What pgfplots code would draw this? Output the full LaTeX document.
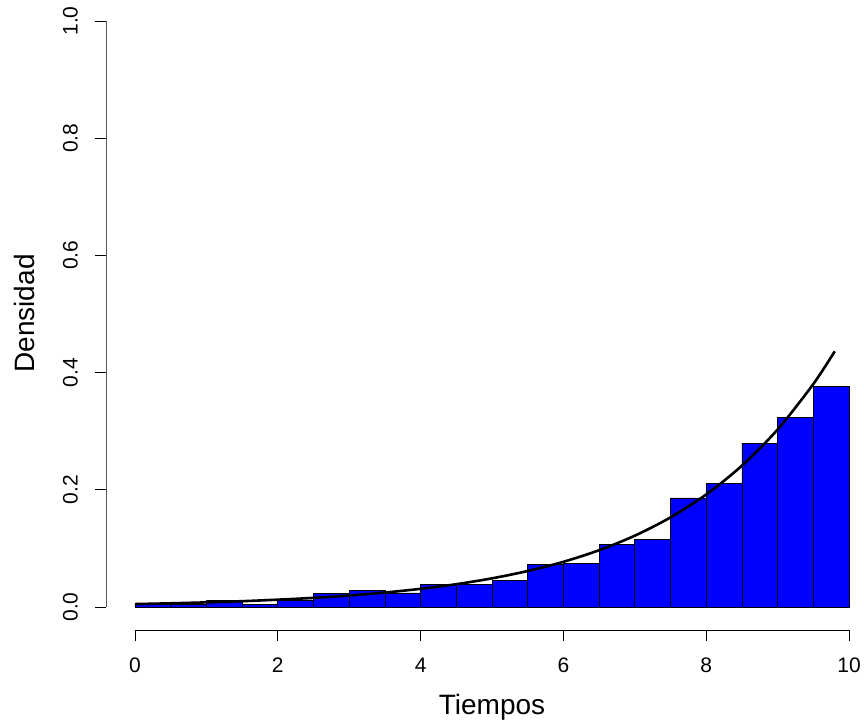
\documentclass[border=0pt]{standalone}
\usepackage{pgfplots}
\pgfplotsset{compat=1.18}
\usepackage{fontspec}
\setmainfont{Liberation Sans}

\definecolor{barblue}{RGB}{0,0,255}

% density histogram, bins of width 0.5 (last y repeated for ybar interval)
\pgfplotstableread{
x y
0.0 0.004
0.5 0.004
1.0 0.011
1.5 0.005
2.0 0.012
2.5 0.023
3.0 0.029
3.5 0.024
4.0 0.039
4.5 0.039
5.0 0.045
5.5 0.073
6.0 0.075
6.5 0.106
7.0 0.116
7.5 0.186
8.0 0.211
8.5 0.279
9.0 0.324
9.5 0.377
10.0 0.377
}\hist

\begin{document}
\begin{tikzpicture}[x=1bp,y=1bp]
\begin{axis}[
    anchor=south west,
    x=71.4bp, y=586bp,
    xmin=-0.4, xmax=10.4, ymin=-0.04, ymax=1.04,
    axis line style={draw=none},
    xtick={0,2,4,6,8,10},
    ytick={0,0.2,0.4,0.6,0.8,1},
    xtick pos=bottom, ytick pos=left,
    tick align=outside, major tick length=11bp,
    tick style={black, line width=0.9bp},
    /pgf/number format/assume math mode=true,
    ticklabel style={font=\fontsize{21bp}{25bp}\selectfont},
    xticklabel shift=13bp, yticklabel shift=14bp,
    yticklabel style={rotate=90, anchor=south,
        /pgf/number format/.cd, fixed, fixed zerofill, precision=1},
    xticklabel style={anchor=north},
]
\addplot[ybar interval, fill=barblue, draw=black, line width=0.8bp] table[x=x, y=y] {\hist};
\addplot[smooth, black, line width=2.6bp] coordinates {
(0,0.0050) (0.5,0.0063) (1,0.0079) (1.5,0.0099) (2,0.0125) (2.5,0.0156)
(3,0.0196) (3.5,0.0247) (4,0.0310) (4.5,0.0389) (5,0.0489) (5.5,0.0614)
(6,0.0771) (6.5,0.0969) (7,0.1217) (7.5,0.1529) (8,0.1920) (8.5,0.2412)
(9,0.3029) (9.5,0.3805) (9.8,0.4363)};
\draw[line width=0.9bp] (axis cs:0,-0.04) -- (axis cs:10,-0.04);
\draw[line width=0.9bp] (axis cs:-0.4,0) -- (axis cs:-0.4,1);
\end{axis}
\node[anchor=base, font=\fontsize{28bp}{33bp}\selectfont] at (385.56,-83.86) {Tiempos};
\node[anchor=base, rotate=90, font=\fontsize{28bp}{33bp}\selectfont] at (-71.44,317) {Densidad};
\pgfresetboundingbox
\useasboundingbox (-106.44,-94.56) rectangle (757.56,630.44);
\end{tikzpicture}
\end{document}
